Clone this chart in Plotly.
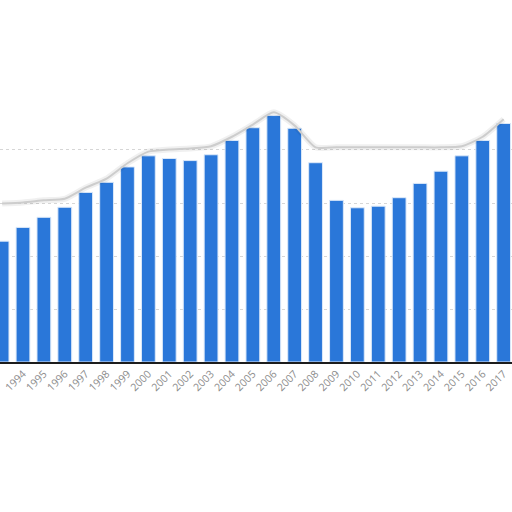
import plotly.graph_objects as go

# years shown on the axis (1993 is cut on the left, 2018 only has part of its label)
years = list(range(1993, 2018))
tick_years = list(range(1993, 2019))

# bar heights (gridline step = 10)
values = [22.8, 25.4, 27.3, 29.2, 32.0, 33.9, 36.8, 38.9, 38.4, 38.0,
          39.1, 41.8, 44.2, 46.5, 44.1, 37.6, 30.5, 29.1, 29.4, 31.0,
          33.7, 36.0, 38.9, 41.8, 45.0]

# grey "curl" outline that runs above the bars
envelope = [29.9, 30.1, 30.5, 30.8, 32.9, 34.6, 37.5, 39.7, 40.1, 40.3,
            40.7, 42.5, 44.8, 47.1, 44.6, 40.5, 40.5, 40.5, 40.5, 40.5,
            40.5, 40.5, 40.7, 42.5, 45.8]

grid_vals = [10, 20, 30, 40]

fig = go.Figure()

# soft shadow + thin outline
fig.add_trace(go.Scatter(x=years, y=envelope, mode="lines",
                         line=dict(color="rgba(0,0,0,0.06)", width=6, shape="spline", smoothing=0.6),
                         hoverinfo="skip", showlegend=False))
fig.add_trace(go.Scatter(x=years, y=envelope, mode="lines",
                         line=dict(color="#cdcdcd", width=2, shape="spline", smoothing=0.6),
                         hoverinfo="skip", showlegend=False))

fig.add_trace(go.Bar(x=years, y=values, width=0.66,
                     marker=dict(color="#2a77d9", line=dict(color="#dce9f9", width=1)),
                     showlegend=False))

fig.update_xaxes(
    range=[1992.9, 2017.4],
    tickvals=tick_years,
    ticktext=[str(y) for y in tick_years],
    tickangle=-45,
    tickfont=dict(family="Open Sans", size=10.5, color="#8c8c8c"),
    showline=True, linecolor="#1c1c1c", linewidth=1.5,
    showgrid=False, zeroline=False, ticks="",
    automargin=False,
)
fig.update_yaxes(
    range=[0, 68.3],
    tickvals=grid_vals,
    showticklabels=False,
    showgrid=True, gridcolor="#d6d6d6", griddash="dot", gridwidth=1,
    zeroline=False,
    automargin=False,
)
fig.update_layout(
    width=512, height=512,
    margin=dict(l=0, r=0, t=0, b=150),
    plot_bgcolor="white", paper_bgcolor="white",
    bargap=0.3,
)

# drop the browser's default body margin so the figure sits at the page corner
fig.write_html("out.html", config={"displayModeBar": False},
               post_script="document.body.style.margin='0';")
